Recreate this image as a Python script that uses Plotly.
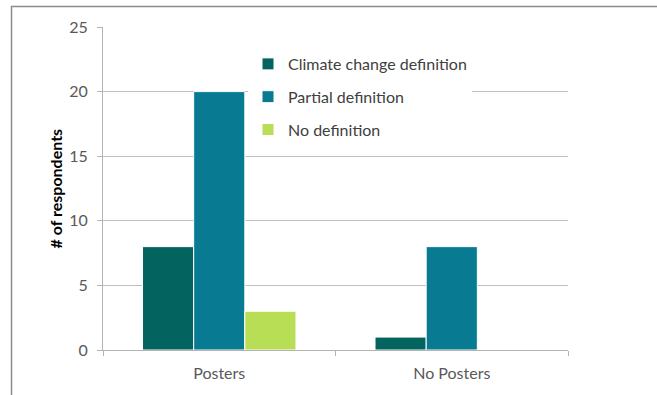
import plotly.graph_objects as go

# Survey responses grouped by whether posters were shown
categories = ["Posters", "No Posters"]
climate_change_def = [8, 1]
partial_def = [20, 8]
no_def = [3, 0]

series_names = ["Climate change definition", "Partial definition", "No definition"]
series_values = [climate_change_def, partial_def, no_def]
series_colors = ["#03645F", "#087B93", "#B8DE55"]

W, H = 657, 395
L, R, T, B = 103, 89, 27, 45
plot_w = W - L - R
plot_h = H - T - B

font_family = "Lato, 'Open Sans', sans-serif"

fig = go.Figure()
for i, (name, vals, col) in enumerate(zip(series_names, series_values, series_colors)):
    fig.add_trace(go.Bar(
        x=categories, y=vals, name=name, legendgroup=f"g{i}",
        marker=dict(color=col, line=dict(color="white", width=1)),
    ))

# outer chart frame (only top and left edges fall inside the page)
def px_to_paper_x(px):
    return (px - L) / plot_w

def px_to_paper_y(py):
    return (H - B - py) / plot_h

fig.add_shape(type="rect", xref="paper", yref="paper",
              x0=px_to_paper_x(11.5), x1=px_to_paper_x(W + 20),
              y0=px_to_paper_y(H + 20), y1=px_to_paper_y(6.5),
              line=dict(color="#8C8C8C", width=1.5), fillcolor="rgba(0,0,0,0)",
              layer="below")

fig.add_annotation(text="<b># of respondents</b>", xref="paper", yref="paper",
                   x=px_to_paper_x(55), y=0.5, xanchor="center", yanchor="middle",
                   textangle=-90, showarrow=False,
                   font=dict(family=font_family, size=16, color="#000000"))

fig.update_layout(
    width=W, height=H,
    margin=dict(l=L, r=R, t=T, b=B, autoexpand=False),
    paper_bgcolor="white", plot_bgcolor="white",
    barmode="group", bargap=0.34, bargroupgap=0,
    font=dict(family=font_family, size=16, color="#595959"),
    showlegend=True,
    legend=dict(x=px_to_paper_x(248), y=px_to_paper_y(47), xanchor="left", yanchor="top",
                bgcolor="white", tracegroupgap=9, itemwidth=30,
                font=dict(family=font_family, size=16, color="#404040")),
    xaxis=dict(showline=True, linecolor="#B3B3B3", linewidth=1,
               ticks="outside", ticklen=5, tickcolor="#B3B3B3", tickson="boundaries",
               showgrid=False, ticklabelstandoff=9,
               tickfont=dict(size=16, color="#595959")),
    yaxis=dict(range=[0, 25], dtick=5, showline=True, linecolor="#B3B3B3", linewidth=1,
               ticks="outside", ticklen=5, tickcolor="#B3B3B3",
               showgrid=True, gridcolor="#BFBFBF", gridwidth=1,
               zeroline=False, ticklabelstandoff=6,
               tickfont=dict(size=16, color="#595959")),
)

fig.write_html("out.html")
